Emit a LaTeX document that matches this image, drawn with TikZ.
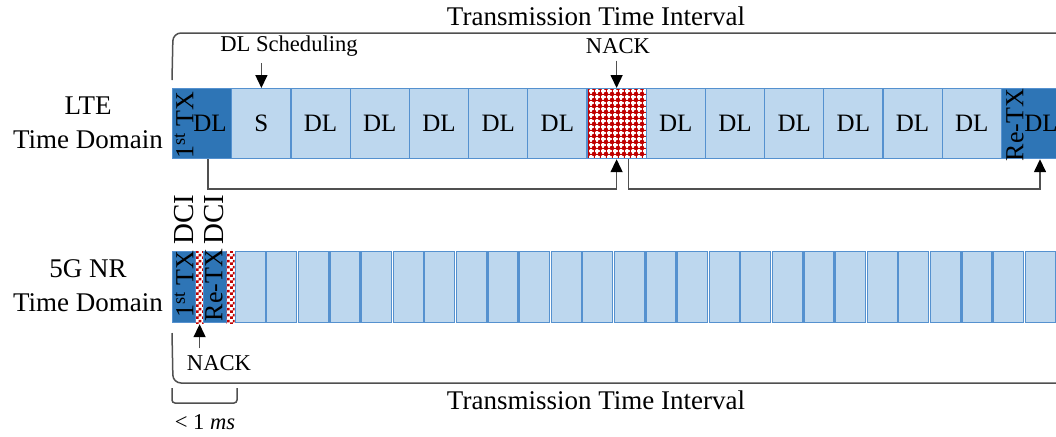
\documentclass[tikz,border=0pt]{standalone}
\usepackage{fontspec}
\setmainfont{Liberation Serif}
\usetikzlibrary{arrows.meta,patterns,calc}
\definecolor{txblue}{HTML}{2E75B6}
\definecolor{slotblue}{HTML}{BDD7EE}
\definecolor{slotline}{HTML}{5591CF}
\definecolor{nackred}{HTML}{C00000}
\definecolor{wire}{HTML}{505050}
\pgfdeclarepatternformonly{nackdots}{\pgfqpoint{-1.5pt}{-1.5pt}}{\pgfqpoint{1.5pt}{1.5pt}}{\pgfqpoint{3pt}{3pt}}{
  \pgfpathcircle{\pgfpointorigin}{1.15pt}
  \pgfusepath{fill}
  \pgfsetlinewidth{0.3pt}
  \pgfpathmoveto{\pgfqpoint{-1.5pt}{0pt}}\pgfpathlineto{\pgfqpoint{1.5pt}{0pt}}
  \pgfpathmoveto{\pgfqpoint{0pt}{-1.5pt}}\pgfpathlineto{\pgfqpoint{0pt}{1.5pt}}
  \pgfusepath{stroke}
}
\pgfdeclarepatternformonly{dcicheck}{\pgfpointorigin}{\pgfqpoint{2.8pt}{2.8pt}}{\pgfqpoint{2.8pt}{2.8pt}}{
  \pgfpathrectangle{\pgfpointorigin}{\pgfqpoint{1.4pt}{1.4pt}}
  \pgfpathrectangle{\pgfqpoint{1.4pt}{1.4pt}}{\pgfqpoint{1.4pt}{1.4pt}}
  \pgfusepath{fill}
}
\tikzset{
  bigtext/.style={font=\fontsize{13.5}{17}\selectfont},
  ltecell/.style={draw=slotline,fill=slotblue,line width=0.6pt,minimum width=29.6pt,minimum height=35pt,inner sep=0pt,anchor=north west,font=\fontsize{12.5}{14}\selectfont},
  txcell/.style={ltecell,fill=txblue},
  nackcell/.style={ltecell,fill=none,pattern=nackdots,pattern color=nackred},
  nrcell/.style={draw=slotline,fill=slotblue,line width=0.6pt,minimum width=15pt,minimum height=35.5pt,inner sep=0pt,anchor=north west},
  nrtx/.style={nrcell,fill=txblue,minimum width=11.5pt},
  nrdci/.style={nrcell,draw=none,fill=none,minimum width=4pt,minimum height=36pt,pattern=dcicheck,pattern color=nackred},
  rot/.style={rotate=90,inner sep=0pt,font=\fontsize{13}{15}\selectfont},
  arr/.style={draw=wire,line width=0.75pt,-{Triangle[width=6pt,length=6.5pt,color=black]}},
  brace/.style={draw=wire,line width=0.75pt,rounded corners=4pt}
}
\begin{document}
\begin{tikzpicture}[x=0.5pt,y=-0.5pt,font=\fontsize{11.3}{13}\selectfont]
	\useasboundingbox (0,0) rectangle (1056,436);
	\clip (0,0) rectangle (1056,436);
	\foreach \sty/\lbl [count=\i from 0] in {txcell/,ltecell/S,ltecell/DL,ltecell/DL,ltecell/DL,ltecell/DL,ltecell/DL,nackcell/,ltecell/DL,ltecell/DL,ltecell/DL,ltecell/DL,ltecell/DL,ltecell/DL,txcell/}
		\node[\sty] (lte\i) at ({172+59.2*\i},88) {\lbl};
	\node[rot] (ltefirst) at (184,125) {1\textsuperscript{st} TX};
	\node[font=\fontsize{12.5}{14}\selectfont] (ltefirstdl) at (210,123) {DL};
	\node[rot] (lteretx) at (1015,125) {Re-TX};
	\node[font=\fontsize{12.5}{14}\selectfont] (lteretxdl) at (1041,123) {DL};
	\node[nrtx] (nrtx1) at (172,251) {};
	\node[nrdci] (nrdci1) at (195,251) {};
	\node[nrtx] (nrtx2) at (203,251) {};
	\node[nrdci] (nrdci2) at (226,251) {};
	\foreach \i in {1,...,26}
		\node[nrcell] (nr\i) at ({234+31.6*(\i-1)+0.5},251) {};
	\node[rot] (nrfirst) at (184,284) {1\textsuperscript{st} TX};
	\node[rot] (nrretx) at (214,285) {Re-TX};
	\node[rot,anchor=west,font=\fontsize{14.5}{16}\selectfont] (dci1) at (184,245) {DCI};
	\node[rot,anchor=west,font=\fontsize{14.5}{16}\selectfont] (dci2) at (214,245) {DCI};
	\node[bigtext,align=center] (ltelabel) at (88,123) {LTE\\Time Domain};
	\node[bigtext,align=center] (nrlabel) at (88,286) {5G NR\\Time Domain};
	\node[bigtext] (ttitop) at (596,16) {Transmission Time Interval};
	\node[bigtext] (ttibottom) at (596,400) {Transmission Time Interval};
	\node (sched) at (289,46) {DL Scheduling};
	\node (ltenack) at (618,46) {NACK};
	\node (nrnack) at (219,363) {NACK};
	\node (lessms) at (205,422) {< 1 \textit{ms}};
	\draw[arr] (sched.south -| lte1) -- (lte1.north);
	\draw[arr] (ltenack.south -| lte7) -- (lte7.north);
	\draw[arr] (nrnack.north -| nrdci1) -- (nrdci1.south);
	\draw[arr] ($(lte0.south)+(6,0)$) -- ++(0,30) -| (lte7.south);
	\draw[arr] ($(lte7.south)+(12,0)$) -- ++(0,30) -| ($(lte14.south)+(9,0)$);
	\draw[brace] (172,80) -- (173,33) -- (1060,33);
	\draw[brace] (172,333) -- (173,383) -- (1060,383);
	\draw[brace,rounded corners=1.5pt] (172,388) -- (172,403) -- (237,403) -- (237,388);
\end{tikzpicture}
\end{document}
